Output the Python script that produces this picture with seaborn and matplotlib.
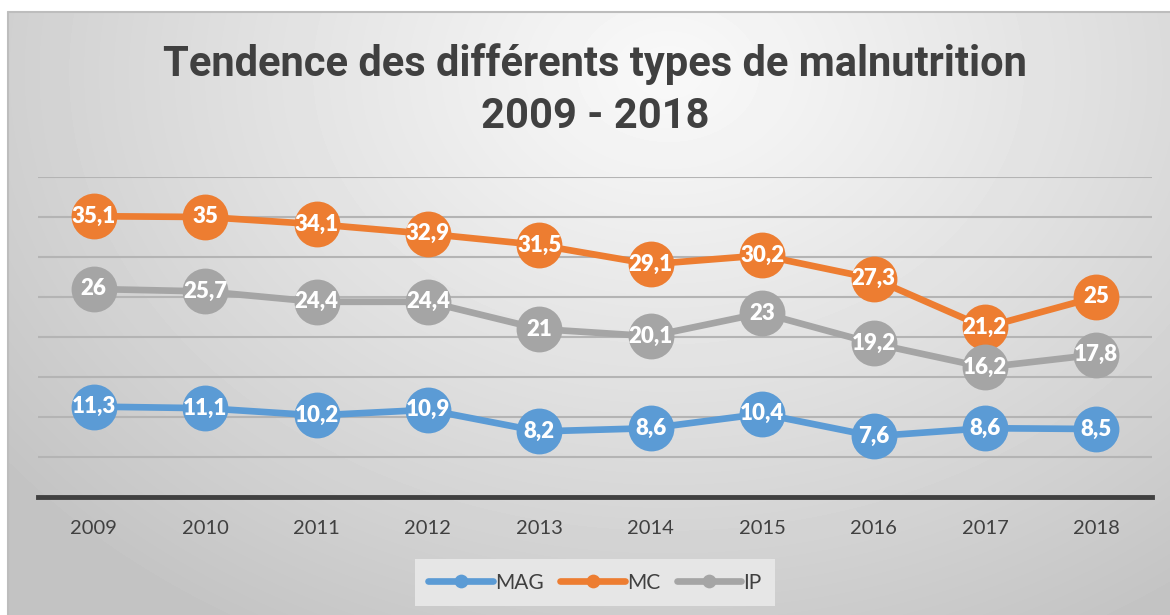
import matplotlib
matplotlib.use("Agg")
import matplotlib.pyplot as plt
import numpy as np
import pandas as pd
import seaborn as sns

# Data
years = ["2009", "2010", "2011", "2012", "2013", "2014", "2015", "2016", "2017", "2018"]
mag = [11.3, 11.1, 10.2, 10.9, 8.2, 8.6, 10.4, 7.6, 8.6, 8.5]
mc = [35.1, 35, 34.1, 32.9, 31.5, 29.1, 30.2, 27.3, 21.2, 25]
ip = [26, 25.7, 24.4, 24.4, 21, 20.1, 23, 19.2, 16.2, 17.8]
series_names = ["MAG", "MC", "IP"]
colors = {"MAG": "#5b9bd5", "MC": "#ed7d31", "IP": "#a5a5a5"}

df = pd.DataFrame({"year": years * 3,
                   "value": mag + mc + ip,
                   "serie": sum([[s] * len(years) for s in series_names], [])})

sns.set_style("white")
plt.rcParams["font.family"] = ["Lato", "DejaVu Sans"]

W, H = 1170, 615
fig = plt.figure(figsize=(W / 100, H / 100), dpi=100)

# background gradient (chart area)
bg = fig.add_axes([8 / W, 0, 1 - 8 / W, (H - 12) / H])
yy, xx = np.mgrid[0:603, 0:1162]
d = np.sqrt(((xx - 660) / 850.0) ** 2 + ((yy - 60) / 650.0) ** 2)
d = np.clip(d, 0, 1)
shade = 0.975 - 0.21 * d ** 1.1
bg.imshow(shade, cmap="gray", vmin=0, vmax=1, aspect="auto", interpolation="bilinear")
bg.set_axis_off()
fig.add_artist(plt.Line2D([8 / W, 8 / W], [0, (H - 12) / H], color="#bdbdbd", lw=1.5))
fig.add_artist(plt.Line2D([8 / W, 1], [(H - 12) / H, (H - 12) / H], color="#bdbdbd", lw=1.5))

ax = fig.add_axes([38 / W, (H - 497) / H, (1152 - 38) / W, (497 - 177) / H])
ax.patch.set_alpha(0)

sns.lineplot(data=df, x="year", y="value", hue="serie", palette=colors,
             hue_order=series_names, marker="o", markersize=33, lw=4.8,
             markeredgewidth=0, ax=ax, legend=True, sort=False)
for ln in ax.lines:
    ln.set_clip_on(False)

ax.set_ylim(0, 40)
ax.set_xlim(-0.5, len(years) - 0.5)
ax.set_yticks(np.arange(5, 41, 5))
ax.yaxis.grid(True, color="#b4b4b4", lw=1.5)
ax.set_axisbelow(True)
ax.tick_params(axis="y", left=False, labelleft=False)
ax.tick_params(axis="x", bottom=False, labelsize=14.5, labelcolor="#404040", pad=13)
for s in ["left", "right", "top"]:
    ax.spines[s].set_visible(False)
ax.spines["bottom"].set_color("#404040")
ax.spines["bottom"].set_linewidth(3.5)
ax.set_xlabel("")
ax.set_ylabel("")

for vals in [mag, mc, ip]:
    for i, v in enumerate(vals):
        ax.text(i, v, f"{v:g}".replace(".", ","), ha="center", va="center",
                color="white", fontsize=16, fontweight="heavy", zorder=10)

leg = ax.legend(loc="center", bbox_to_anchor=((595 - 38) / (1152 - 38), -0.268),
                ncol=3, frameon=True, fontsize=15, handlelength=3.1,
                columnspacing=0.8, handletextpad=0.1, markerscale=0.3,
                borderpad=0.65, borderaxespad=0)
leg.get_frame().set_facecolor("#e6e6e6")
leg.get_frame().set_edgecolor("none")
leg.get_frame().set_alpha(1)
leg.get_frame().set_boxstyle("square", pad=0)
for t in leg.get_texts():
    t.set_color("#404040")

title_font = ["Roboto", "Liberation Sans", "DejaVu Sans"]
fig.text(595 / W, 1 - 64 / H, "Tendence des différents types de malnutrition",
         ha="center", va="center", fontsize=30, fontweight="bold", color="#404040",
         family=title_font)
fig.text(595 / W, 1 - 116 / H, "2009 - 2018",
         ha="center", va="center", fontsize=30, fontweight="bold", color="#404040",
         family=title_font)

fig.savefig("out.png", dpi=100)
